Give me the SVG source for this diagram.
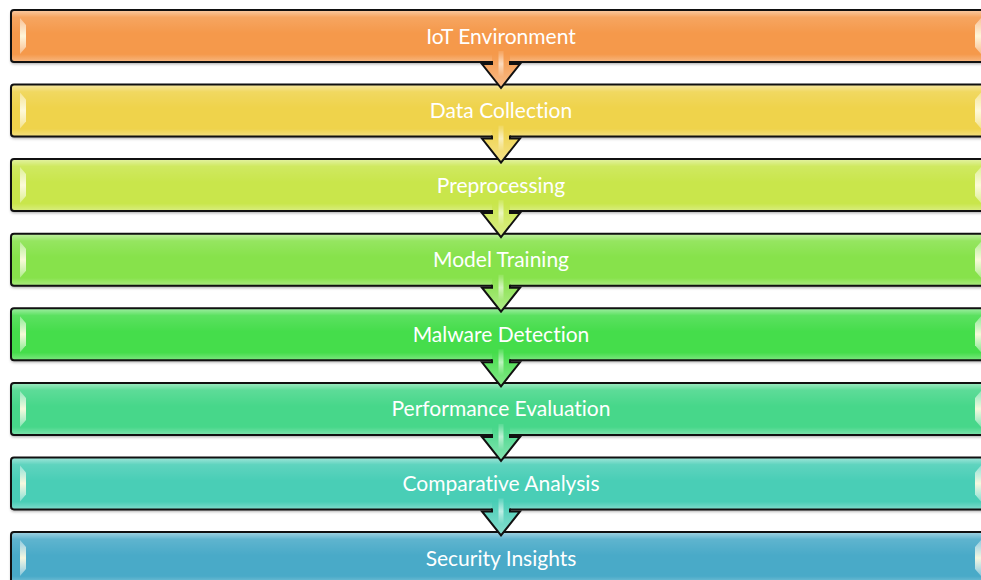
<svg xmlns="http://www.w3.org/2000/svg" width="981" height="580" viewBox="0 0 981 580">
  <defs>
    <!-- glossy sheen laid over every bar -->
    <linearGradient id="sheen" x1="0" y1="0" x2="0" y2="1">
      <stop offset="0" stop-color="#fff" stop-opacity="0.5"/>
      <stop offset="0.14" stop-color="#fff" stop-opacity="0.12"/>
      <stop offset="0.45" stop-color="#fff" stop-opacity="0"/>
      <stop offset="0.85" stop-color="#fff" stop-opacity="0"/>
      <stop offset="1" stop-color="#fff" stop-opacity="0.3"/>
    </linearGradient>
    <!-- side bevel highlight -->
    <linearGradient id="bevel" x1="0" y1="0" x2="0" y2="1">
      <stop offset="0" stop-color="#fff" stop-opacity="0.35"/>
      <stop offset="0.5" stop-color="#fffbe0" stop-opacity="0.95"/>
      <stop offset="1" stop-color="#fff" stop-opacity="0.35"/>
    </linearGradient>
    <!-- arrow sheen, brighter toward the tip -->
    <linearGradient id="arrowSheen" x1="0" y1="0" x2="0" y2="1">
      <stop offset="0" stop-color="#fff" stop-opacity="0"/>
      <stop offset="1" stop-color="#fff" stop-opacity="0.35"/>
    </linearGradient>
    <linearGradient id="stripe" x1="0" y1="0" x2="0" y2="1">
      <stop offset="0" stop-color="#fff" stop-opacity="0.1"/>
      <stop offset="0.5" stop-color="#fff" stop-opacity="0.6"/>
      <stop offset="1" stop-color="#fff" stop-opacity="0"/>
    </linearGradient>
    <filter id="shadow" x="-5%" y="-20%" width="110%" height="150%">
      <feDropShadow dx="0" dy="2" stdDeviation="1.5" flood-color="#000" flood-opacity="0.35"/>
    </filter>

    <!-- bar: sheen, bevels and outline over the coloured body -->
    <symbol id="bar" overflow="visible">
      <rect x="11" y="0" width="980" height="52" rx="3" fill="url(#sheen)"/>
      <path d="M20,8 L26,15 L26,37 L20,44 Z" fill="url(#bevel)"/>
      <path d="M981,8 L975,15 L975,37 L981,44 Z" fill="url(#bevel)"/>
      <rect x="11" y="0" width="980" height="52" rx="3" fill="none" stroke="#111" stroke-width="2"/>
    </symbol>

    <!-- down chevron: origin at bottom edge of the upper bar, centre line -->
    <symbol id="chev" overflow="visible">
      <path d="M-9,-7 L-9,3 L-19,3 L0,27 L19,3 L9,3 L9,-7 Z" fill="url(#arrowSheen)"/>
      <rect x="-2.5" y="-10" width="5" height="26" fill="url(#stripe)"/>
      <path d="M-9,0 L-9,3 L-19,3 L0,27 L19,3 L9,3 L9,0" fill="none" stroke="#111" stroke-width="2" stroke-linejoin="miter"/>
    </symbol>

    <style>
      .label { font-family: Lato, "Open Sans", "Liberation Sans", sans-serif; font-size: 21px; fill: #fff; text-anchor: middle; font-variant-ligatures: none; font-feature-settings: "liga" 0, "clig" 0, "dlig" 0; }
    </style>
  </defs>

  <rect width="981" height="580" fill="#fff"/>

  <g id="node-iot-environment" transform="translate(0,10)">
    <rect x="11" y="0" width="980" height="52" rx="3" fill="#F5994B" filter="url(#shadow)"/>
    <use href="#bar"/>
    <text class="label" x="501" y="33.5">IoT Environment</text>
  </g>
  <g id="node-data-collection" transform="translate(0,84.6)">
    <rect x="11" y="0" width="980" height="52" rx="3" fill="#EFD34B" filter="url(#shadow)"/>
    <use href="#bar"/>
    <text class="label" x="501" y="33.5">Data Collection</text>
  </g>
  <g id="node-preprocessing" transform="translate(0,159.1)">
    <rect x="11" y="0" width="980" height="52" rx="3" fill="#C9E64B" filter="url(#shadow)"/>
    <use href="#bar"/>
    <text class="label" x="501" y="33.5">Preprocessing</text>
  </g>
  <g id="node-model-training" transform="translate(0,233.7)">
    <rect x="11" y="0" width="980" height="52" rx="3" fill="#87E24B" filter="url(#shadow)"/>
    <use href="#bar"/>
    <text class="label" x="501" y="33.5">Model Training</text>
  </g>
  <g id="node-malware-detection" transform="translate(0,308.3)">
    <rect x="11" y="0" width="980" height="52" rx="3" fill="#45DD4B" filter="url(#shadow)"/>
    <use href="#bar"/>
    <text class="label" x="501" y="33.5">Malware Detection</text>
  </g>
  <g id="node-performance-evaluation" transform="translate(0,382.9)">
    <rect x="11" y="0" width="980" height="52" rx="3" fill="#47D78A" filter="url(#shadow)"/>
    <use href="#bar"/>
    <text class="label" x="501" y="33.5">Performance Evaluation</text>
  </g>
  <g id="node-comparative-analysis" transform="translate(0,457.4)">
    <rect x="11" y="0" width="980" height="52" rx="3" fill="#49CEB6" filter="url(#shadow)"/>
    <use href="#bar"/>
    <text class="label" x="501" y="33.5">Comparative Analysis</text>
  </g>
  <g id="node-security-insights" transform="translate(0,532)">
    <rect x="11" y="0" width="980" height="52" rx="3" fill="#4AAAC8" filter="url(#shadow)"/>
    <use href="#bar"/>
    <text class="label" x="501" y="33.5">Security Insights</text>
  </g>

  <g id="connectors">
    <g transform="translate(501,61)"><path d="M-9,-7 L-9,3 L-19,3 L0,27 L19,3 L9,3 L9,-7 Z" fill="#F5994B"/><use href="#chev"/></g>
    <g transform="translate(501,135.6)"><path d="M-9,-7 L-9,3 L-19,3 L0,27 L19,3 L9,3 L9,-7 Z" fill="#EFD34B"/><use href="#chev"/></g>
    <g transform="translate(501,210.1)"><path d="M-9,-7 L-9,3 L-19,3 L0,27 L19,3 L9,3 L9,-7 Z" fill="#C9E64B"/><use href="#chev"/></g>
    <g transform="translate(501,284.7)"><path d="M-9,-7 L-9,3 L-19,3 L0,27 L19,3 L9,3 L9,-7 Z" fill="#87E24B"/><use href="#chev"/></g>
    <g transform="translate(501,359.3)"><path d="M-9,-7 L-9,3 L-19,3 L0,27 L19,3 L9,3 L9,-7 Z" fill="#45DD4B"/><use href="#chev"/></g>
    <g transform="translate(501,433.9)"><path d="M-9,-7 L-9,3 L-19,3 L0,27 L19,3 L9,3 L9,-7 Z" fill="#47D78A"/><use href="#chev"/></g>
    <g transform="translate(501,508.4)"><path d="M-9,-7 L-9,3 L-19,3 L0,27 L19,3 L9,3 L9,-7 Z" fill="#49CEB6"/><use href="#chev"/></g>
  </g>
</svg>
